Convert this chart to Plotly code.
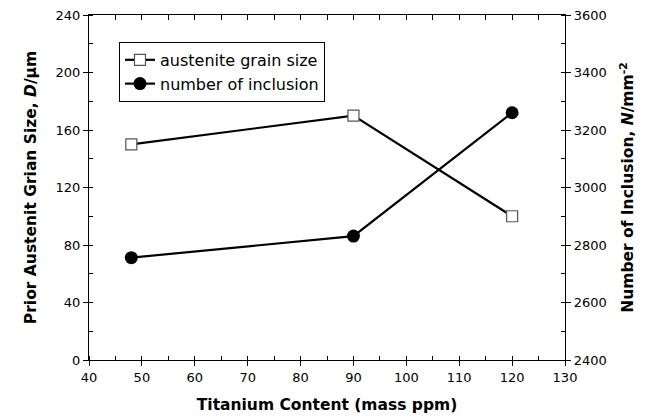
import plotly.graph_objects as go

# Titanium content (mass ppm)
titanium = [48, 90, 120]
# Prior austenite grain size D (µm), left axis
grain_size = [150, 170, 100]
# Number of inclusions N (mm^-2), right axis
inclusions = [2756, 2831, 3260]

FONT = "DejaVu Sans, Arial, sans-serif"

fig = go.Figure()

fig.add_trace(go.Scatter(
    x=titanium, y=grain_size, name="austenite grain size",
    mode="lines+markers",
    line=dict(color="black", width=2.2),
    marker=dict(symbol="square", size=11, color="white",
                line=dict(color="#555555", width=1.2)),
    yaxis="y",
))
fig.add_trace(go.Scatter(
    x=titanium, y=inclusions, name="number of inclusion",
    mode="lines+markers",
    line=dict(color="black", width=2.2),
    marker=dict(symbol="circle", size=13, color="black"),
    yaxis="y2",
))
# invisible trace to carry the top axis
fig.add_trace(go.Scatter(x=[40, 130], y=[None, None], xaxis="x2",
                         showlegend=False, hoverinfo="skip"))

tick_font = dict(family=FONT, size=13, color="black")
title_font = dict(family=FONT, size=15.5, color="black", weight="bold")

fig.update_layout(
    width=646, height=416,
    margin=dict(l=89, r=81, t=15, b=56),
    paper_bgcolor="white", plot_bgcolor="white",
    showlegend=True,
    legend=dict(
        x=0.063, y=0.922, xanchor="left", yanchor="top",
        bordercolor="black", borderwidth=1, bgcolor="white",
        font=dict(family=FONT, size=16, color="black"),
        tracegroupgap=0, itemwidth=30,
    ),
    xaxis=dict(
        range=[40, 130], dtick=10, tick0=40, automargin=False,
        showline=True, linecolor="black", linewidth=1.2,
        ticks="outside", ticklen=5, tickcolor="black",
        showgrid=False, zeroline=False,
        tickfont=tick_font,
        minor=dict(dtick=5, ticks="inside", ticklen=4, tickcolor="black"),
        title=dict(text="Titanium Content (mass ppm)", font=title_font, standoff=15),
    ),
    xaxis2=dict(
        range=[40, 130], overlaying="x", side="top", automargin=False,
        showline=True, linecolor="black", linewidth=1.2,
        ticks="inside", ticklen=5, dtick=5, tickcolor="black",
        showticklabels=False, showgrid=False, zeroline=False,
    ),
    yaxis=dict(
        range=[0, 240], dtick=40, automargin=False,
        showline=True, linecolor="black", linewidth=1.2,
        ticks="outside", ticklen=5, tickcolor="black",
        showgrid=False, zeroline=False,
        tickfont=tick_font,
        minor=dict(dtick=20, ticks="inside", ticklen=4, tickcolor="black"),
        title=dict(text="Prior Austenit Grian Size, <i>D</i>/µm", font=title_font, standoff=15),
    ),
    yaxis2=dict(
        range=[2400, 3600], dtick=200, overlaying="y", side="right", automargin=False,
        showline=True, linecolor="black", linewidth=1.2,
        ticks="outside", ticklen=5, tickcolor="black",
        showgrid=False, zeroline=False,
        tickfont=tick_font,
        minor=dict(dtick=100, ticks="inside", ticklen=4, tickcolor="black"),
        title=dict(text="Number of Inclusion, <i>N</i>/mm<sup>-2</sup>", font=title_font, standoff=16),
    ),
)

fig.write_html("out.html")
